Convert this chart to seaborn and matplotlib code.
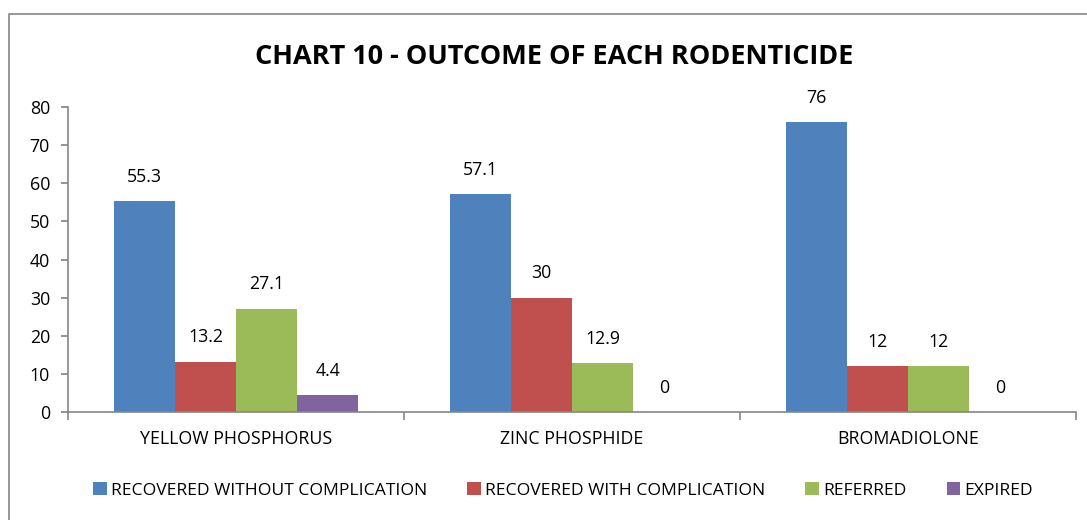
import pandas as pd
import seaborn as sns
import matplotlib.pyplot as plt
from matplotlib.patches import Rectangle

rodenticides = ['YELLOW PHOSPHORUS', 'ZINC PHOSPHIDE', 'BROMADIOLONE']
outcomes = ['RECOVERED WITHOUT COMPLICATION', 'RECOVERED WITH COMPLICATION', 'REFERRED', 'EXPIRED']
recovered_without = [55.3, 57.1, 76]
recovered_with = [13.2, 30, 12]
referred = [27.1, 12.9, 12]
expired = [4.4, 0, 0]
colors = ['#4F81BD', '#C0504D', '#9BBB59', '#8064A2']


def main():
    rows = []
    for o, vals in zip(outcomes, [recovered_without, recovered_with, referred, expired]):
        for r, v in zip(rodenticides, vals):
            rows.append({'rodenticide': r, 'outcome': o, 'value': v})
    df = pd.DataFrame(rows)

    sns.set_theme(style='white')
    plt.rcParams['font.family'] = ['Open Sans', 'DejaVu Sans']
    plt.rcParams['text.color'] = 'black'
    plt.rcParams['xtick.color'] = 'black'
    plt.rcParams['ytick.color'] = 'black'
    fig = plt.figure(figsize=(10.87, 5.2), dpi=100)
    ax = fig.add_axes([0.0626, 0.2077, 0.9274, 0.5865])

    sns.barplot(data=df, x='rodenticide', y='value', hue='outcome',
                order=rodenticides, hue_order=outcomes, palette=colors,
                width=0.727, saturation=1, edgecolor='none', ax=ax)

    for c in ax.containers:
        ax.bar_label(c, fmt='%g', padding=11, fontsize=12.8, color='black')

    ax.set_ylim(0, 80)
    ax.set_xlim(-0.5, 2.5)
    ax.set_yticks(range(0, 81, 10))
    ax.set_xlabel('')
    ax.set_ylabel('')
    for s in ['top', 'right']:
        ax.spines[s].set_visible(False)
    for s in ['left', 'bottom']:
        ax.spines[s].set_color('#868686')
        ax.spines[s].set_linewidth(1.2)
    ax.tick_params(axis='y', which='major', left=True, length=5, color='#868686',
                   labelsize=12.8, pad=8, labelcolor='black')
    ax.tick_params(axis='x', which='major', length=0, labelsize=12.8, pad=13,
                   labelcolor='black')
    ax.set_xticks([-0.5, 0.5, 1.5, 2.5], minor=True)
    ax.tick_params(axis='x', which='minor', bottom=True, length=6, color='#868686', width=1.2)

    fig.text(0.51, 0.89, 'CHART 10 - OUTCOME OF EACH RODENTICIDE',
             ha='center', va='center', fontsize=19.5, fontweight='bold', color='black')

    handles, labels = ax.get_legend_handles_labels()
    ax.legend(handles, labels, loc='center', bbox_to_anchor=(0.518, 0.057),
              bbox_transform=fig.transFigure, ncol=4, frameon=False,
              fontsize=12.6, handlelength=0.75, handleheight=0.75,
              handletextpad=0.25, columnspacing=2.3)

    fig.patches.append(Rectangle((9 / 1087, -0.1), 1.2, 1.1 - 14 / 520,
                                 transform=fig.transFigure, fill=False,
                                 edgecolor='#868686', linewidth=1.2))

    plt.savefig('out.png', dpi=100)


if __name__ == '__main__':
    main()
